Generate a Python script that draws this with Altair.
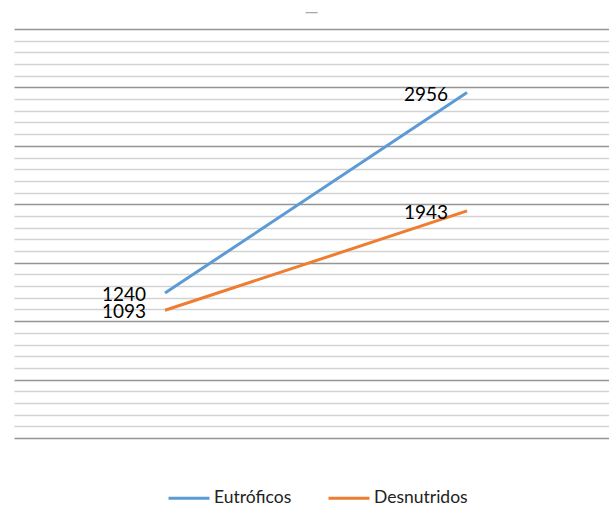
import altair as alt
import pandas as pd

# Two time points, two groups
periods = [0, 1]
groups = ["Eutróficos", "Desnutridos"]
eutroficos = [1240, 2956]
desnutridos = [1093, 1943]
colors = ["#5B9BD5", "#ED7D31"]

rows = []
for g, vals in zip(groups, [eutroficos, desnutridos]):
    for p, v in zip(periods, vals):
        rows.append({"periodo": p, "grupo": g, "valor": v})
df = pd.DataFrame(rows)

x = alt.X("periodo:Q", scale=alt.Scale(domain=[-0.5, 1.47], nice=False, zero=False),
          axis=None)
y = alt.Y("valor:Q",
          scale=alt.Scale(domain=[0, 3500], nice=False),
          axis=alt.Axis(values=list(range(0, 3501, 100)), labels=False, ticks=False,
                        domain=False, title=None, grid=True, gridWidth=1.6,
                        gridColor={"condition": {"test": "datum.value % 500 === 0",
                                                 "value": "#959595"},
                                   "value": "#d2d2d2"}))
color = alt.Color("grupo:N",
                  scale=alt.Scale(domain=groups, range=colors),
                  legend=alt.Legend(orient="none", direction="horizontal", title=None,
                                    legendX=153, legendY=447,
                                    symbolType="stroke", symbolSize=1681,
                                    symbolStrokeWidth=3, labelFont="Lato",
                                    labelFontSize=17.5, labelColor="#222",
                                    columnPadding=30, labelOffset=3))

lines = alt.Chart(df).mark_line(strokeWidth=3).encode(x=x, y=y, color=color)
labels = alt.Chart(df).mark_text(align="right", baseline="middle", dx=-19, dy=2,
                                 font="Lato", fontSize=19, color="#000").encode(
    x=x, y=y, text="valor:Q")

chart = (lines + labels).properties(
    width=595, height=409,
    padding={"left": 14, "top": 29, "right": 0, "bottom": 68},
    autosize=alt.AutoSizeParams(type="none"),
    background="white",
    title=alt.TitleParams("—", fontSize=12, color="#aaaaaa", offset=10, anchor="middle"),
).configure_view(stroke=None)

chart.save("out.html", embed_options={"renderer": "svg", "actions": False})
